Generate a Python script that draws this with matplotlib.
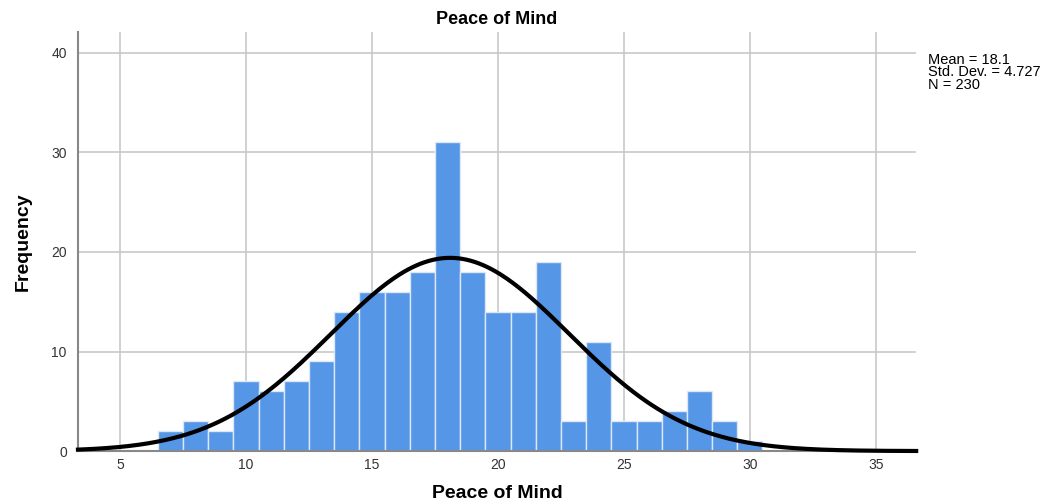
import matplotlib
matplotlib.use("Agg")
import matplotlib.pyplot as plt
import numpy as np

plt.rcParams['font.family'] = ['Liberation Sans', 'DejaVu Sans']

# score values (bin centres) and their counts
scores = np.arange(7, 31)
counts = [2, 3, 2, 7, 6, 7, 9, 14, 16, 16, 18, 31, 18, 14, 14, 19, 3, 11, 3, 3, 4, 6, 3, 1]
mean = 18.1
std_dev = 4.727
n = 230

fig = plt.figure(figsize=(10.55, 5.04), dpi=100)
ax = fig.add_axes([0.0739, 0.105, 0.7945, 0.8315])

ax.set_xlim(3.33, 36.6)
ax.set_ylim(0, 42.1)
ax.set_xticks([5, 10, 15, 20, 25, 30, 35])
ax.set_yticks([0, 10, 20, 30, 40])
ax.grid(True, color='#c8c8c8', linewidth=1.2)
ax.set_axisbelow(True)

ax.bar(scores, counts, width=1.0, color='#5596e6', edgecolor='#dce8f8', linewidth=1.0, zorder=2)

# fitted normal curve scaled to counts per unit bin
xs = np.linspace(3.33, 36.6, 400)
curve = n * 1.0 / (std_dev * np.sqrt(2 * np.pi)) * np.exp(-0.5 * ((xs - mean) / std_dev) ** 2)
ax.plot(xs, curve, color='black', linewidth=3, zorder=3, clip_on=False)

for side in ['top', 'right']:
    ax.spines[side].set_visible(False)
for side in ['left', 'bottom']:
    ax.spines[side].set_color('#888888')
    ax.spines[side].set_linewidth(1.5)
ax.tick_params(axis='y', length=0, labelsize=10, colors='#333333', pad=8)
ax.tick_params(axis='x', length=0, labelsize=10, colors='#333333', pad=5)

ax.set_xlabel('Peace of Mind', fontsize=14, fontweight='bold', labelpad=9)
ax.set_ylabel('Frequency', fontsize=14, fontweight='bold', labelpad=14)
ax.set_title('Peace of Mind', fontsize=13, fontweight='bold', pad=6)

fig.text(0.88, 0.895, 'Mean = %s\nStd. Dev. = %s\nN = %d' % (mean, std_dev, n),
         fontsize=10.5, va='top', ha='left', linespacing=0.85)

fig.savefig('out.png', dpi=100)
